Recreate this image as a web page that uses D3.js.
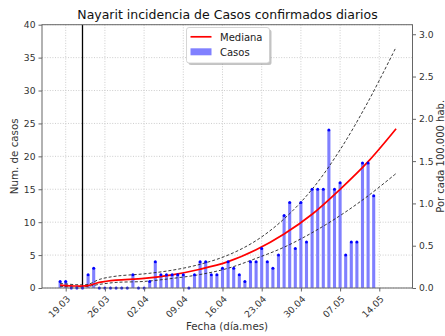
<!DOCTYPE html>
<html>
<head>
<meta charset="utf-8">
<script src="https://cdn.jsdelivr.net/npm/d3@7"></script>
<style>
  body { margin: 0; background: #fff; }
  svg { display: block; font-family: "DejaVu Sans", sans-serif; }
</style>
</head>
<body>
<svg id="chart" width="445" height="336"></svg>
<script>
// Daily confirmed cases, one value per day starting 18.03.2020
const firstCaseDay = "2020-03-18";
const dailyCases = [
  1, 1, 0, 0, 0, 2, 3, 0, 0, 0, 0, 0, 0, 2, 0, 0, 1, 4, 2, 2,
  2, 2, 2, 0, 2, 4, 4, 2, 2, 3, 4, 3, 2, 1, 4, 4, 6, 4, 3, 5,
  11, 13, 6, 13, 7, 15, 15, 15, 24, 15, 16, 5, 7, 7, 19, 19, 14
];

// Fitted trend: median and band limits at sample dates
const trendDates = [
  "2020-03-18", "2020-03-21", "2020-03-23", "2020-03-25", "2020-03-28",
  "2020-04-02", "2020-04-07", "2020-04-12", "2020-04-17", "2020-04-22",
  "2020-04-27", "2020-05-02", "2020-05-07", "2020-05-12", "2020-05-17"
];
const medianValues = [0.45, 0.3, 0.35, 0.85, 1.2, 1.45, 2.0, 2.85, 4.0, 5.8, 8.2, 11.2, 15.0, 19.2, 24.2];
const upperValues  = [0.7, 0.5, 0.55, 1.3, 1.8, 2.15, 2.7, 3.6, 5.0, 7.2, 10.5, 15.0, 21.0, 28.3, 36.6];
const lowerValues  = [0.25, 0.15, 0.25, 0.55, 0.85, 1.0, 1.45, 2.05, 3.0, 4.5, 6.2, 8.4, 11.0, 14.0, 17.4];

// Marker date (vertical reference line)
const markerDate = "2020-03-22";

// Axis ticks
const xTickDates = ["2020-03-19", "2020-03-26", "2020-04-02", "2020-04-09", "2020-04-16",
                    "2020-04-23", "2020-04-30", "2020-05-07", "2020-05-14"];
const yTicks = [0, 5, 10, 15, 20, 25, 30, 35, 40];
const yRightTicks = [0, 0.5, 1.0, 1.5, 2.0, 2.5, 3.0];
const casesPer100k = 12.85; // population / 100 000

const parse = d3.utcParse("%Y-%m-%d");
const start = parse(firstCaseDay);
const caseDays = dailyCases.map((v, i) => ({ date: d3.utcDay.offset(start, i), value: v }));
const trend = trendDates.map((d, i) => ({
  date: parse(d), median: medianValues[i], upper: upperValues[i], lower: lowerValues[i]
}));

const svg = d3.select("#chart");
const L = 42, R = 412.5, T = 24.7, B = 288;

const x = d3.scaleUtc()
  .domain([new Date(Date.UTC(2020, 2, 14, 18, 26)), new Date(Date.UTC(2020, 4, 19, 22, 19))])
  .range([L, R]);
const y = d3.scaleLinear().domain([0, 40]).range([B, T]);
const yR = d3.scaleLinear().domain([0, 40 / casesPer100k]).range([B, T]);

const axisColor = "#666";

// Grid
const grid = svg.append("g").attr("stroke", "#c0c0c0").attr("stroke-width", 0.8).attr("stroke-dasharray", "1,1.6");
grid.selectAll("line.h").data(yTicks).join("line")
  .attr("x1", L).attr("x2", R).attr("y1", d => y(d)).attr("y2", d => y(d));
grid.selectAll("line.v").data(xTickDates.map(parse)).join("line")
  .attr("x1", d => x(d)).attr("x2", d => x(d)).attr("y1", T).attr("y2", B);

// Bars
const barW = 3.1;
svg.append("g").selectAll("rect").data(caseDays).join("rect")
  .attr("x", d => x(d.date) - barW / 2)
  .attr("width", barW)
  .attr("y", d => y(d.value))
  .attr("height", d => y(0) - y(d.value))
  .attr("fill", "#8080ff");

// Reference line
svg.append("line")
  .attr("x1", x(parse(markerDate))).attr("x2", x(parse(markerDate)))
  .attr("y1", T).attr("y2", B)
  .attr("stroke", "#000").attr("stroke-width", 1.3);

// Band limits
const curve = d3.curveCatmullRom.alpha(0.5);
const lineOf = key => d3.line().x(d => x(d.date)).y(d => y(d[key])).curve(curve);
["upper", "lower"].forEach(k => {
  svg.append("path").datum(trend)
    .attr("d", lineOf(k))
    .attr("fill", "none").attr("stroke", "#222").attr("stroke-width", 0.9)
    .attr("stroke-dasharray", "3,2");
});

// Median
svg.append("path").datum(trend)
  .attr("d", lineOf("median"))
  .attr("fill", "none").attr("stroke", "#ff0000").attr("stroke-width", 1.7);

// Points on top of bars
svg.append("g").selectAll("circle").data(caseDays).join("circle")
  .attr("cx", d => x(d.date)).attr("cy", d => y(d.value)).attr("r", 1.5)
  .attr("fill", "#0000ff");

// Frame
svg.append("rect").attr("x", L).attr("y", T).attr("width", R - L).attr("height", B - T)
  .attr("fill", "none").attr("stroke", axisColor).attr("stroke-width", 1);

function styleAxis(g) {
  g.select(".domain").remove();
  g.selectAll(".tick line").attr("stroke", axisColor);
  g.selectAll(".tick text").attr("fill", "#333").attr("font-size", 9.2).attr("font-family", "DejaVu Sans");
}

// Left axis
svg.append("g").attr("transform", `translate(${L},0)`)
  .call(d3.axisLeft(y).tickValues(yTicks).tickSize(3.5).tickPadding(3))
  .call(styleAxis);

// Right axis
svg.append("g").attr("transform", `translate(${R},0)`)
  .call(d3.axisRight(yR).tickValues(yRightTicks).tickFormat(d3.format(".1f")).tickSize(3.5).tickPadding(3))
  .call(styleAxis);

// Bottom axis with rotated labels
const xAxisG = svg.append("g").attr("transform", `translate(0,${B})`)
  .call(d3.axisBottom(x).tickValues(xTickDates.map(parse)).tickFormat(d3.utcFormat("%d.%m")).tickSize(3.5).tickPadding(3))
  .call(styleAxis);
xAxisG.selectAll(".tick text")
  .attr("text-anchor", "end")
  .attr("y", 7).attr("x", 0).attr("dy", "0.72em")
  .attr("transform", "rotate(-45 0 7)");

// Titles and axis labels
svg.append("text").attr("x", 227.5).attr("y", 19).attr("text-anchor", "middle")
  .attr("font-size", 12.5).attr("fill", "#111")
  .text("Nayarit incidencia de Casos confirmados diarios");
svg.append("text").attr("x", 227).attr("y", 330).attr("text-anchor", "middle")
  .attr("font-size", 10.3).attr("fill", "#333").text("Fecha (día.mes)");
svg.append("text").attr("transform", `translate(18.3,${(T + B) / 2}) rotate(-90)`)
  .attr("text-anchor", "middle").attr("font-size", 10.3).attr("fill", "#333").text("Num. de casos");
svg.append("text").attr("transform", `translate(443.5,${(T + B) / 2}) rotate(-90)`)
  .attr("text-anchor", "middle").attr("font-size", 10).attr("fill", "#333").text("Por cada 100.000 hab.");

// Legend
const lg = svg.append("g").attr("transform", "translate(186.5,27.5)");
lg.append("rect").attr("x", 2).attr("y", 2).attr("width", 83).attr("height", 35.5).attr("rx", 2.5)
  .attr("fill", "#888").attr("opacity", 0.5);
lg.append("rect").attr("width", 83).attr("height", 35.5).attr("rx", 2.5)
  .attr("fill", "#fff").attr("stroke", "#ccc").attr("stroke-width", 0.8);
lg.append("line").attr("x1", 4).attr("x2", 25).attr("y1", 9.3).attr("y2", 9.3)
  .attr("stroke", "#ff0000").attr("stroke-width", 1.7);
lg.append("rect").attr("x", 4).attr("y", 20.8).attr("width", 21).attr("height", 7).attr("fill", "#8080ff");
lg.append("text").attr("x", 33.5).attr("y", 13).attr("font-size", 10).attr("fill", "#222").text("Mediana");
lg.append("text").attr("x", 33.5).attr("y", 28.5).attr("font-size", 10).attr("fill", "#222").text("Casos");
</script>
</body>
</html>
